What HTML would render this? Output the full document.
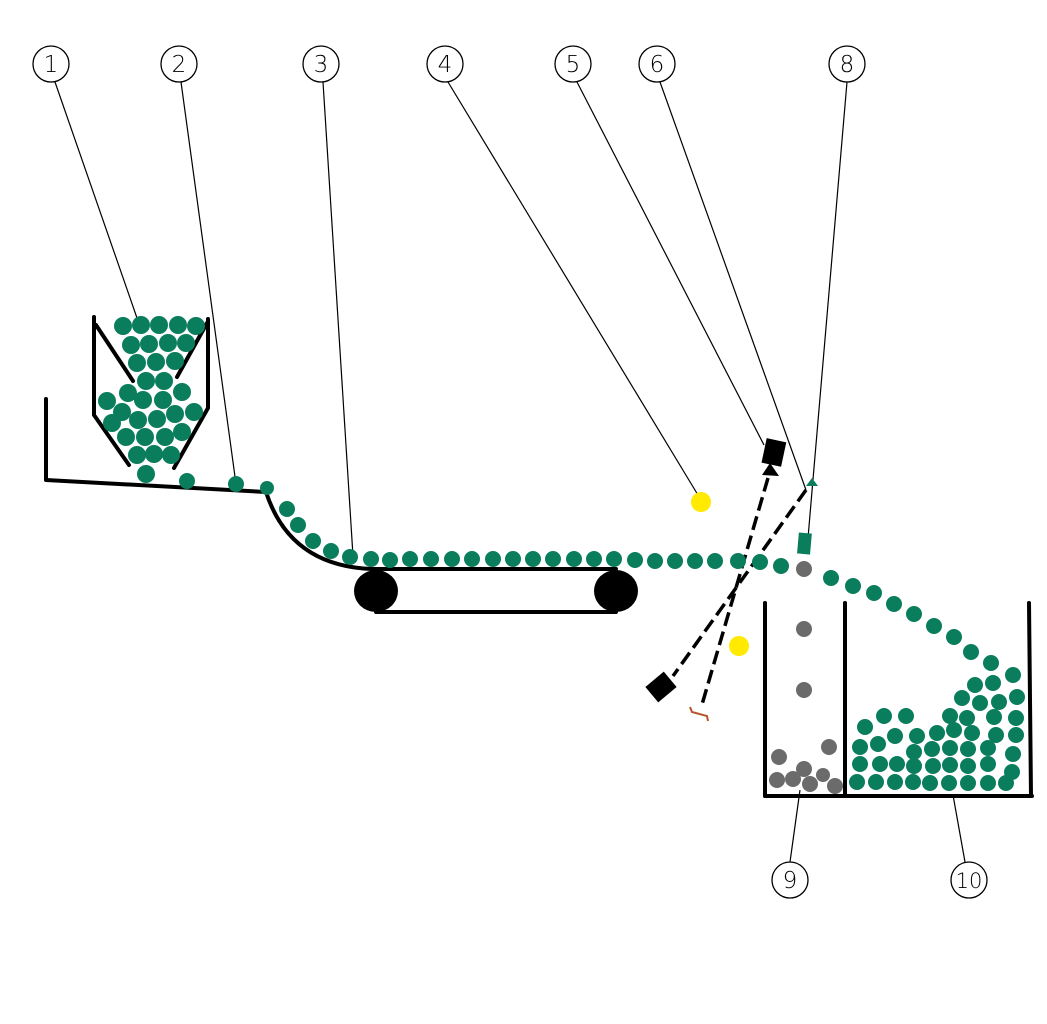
<!DOCTYPE html>
<html><head><meta charset="utf-8"><style>html,body{margin:0;padding:0;background:#fff}svg{display:block}</style></head>
<body>
<svg width="1047" height="1024" viewBox="0 0 1047 1024" xmlns="http://www.w3.org/2000/svg">
<g stroke="#000" stroke-width="1.2">
<line x1="55" y1="82" x2="137" y2="318"/>
<line x1="181" y1="82" x2="236" y2="484"/>
<line x1="323" y1="82" x2="353" y2="556"/>
<line x1="448" y1="82" x2="701" y2="500"/>
<line x1="577" y1="82" x2="764" y2="445"/>
<line x1="660" y1="82" x2="806" y2="490"/>
<line x1="847" y1="82" x2="808" y2="538"/>
<line x1="790" y1="862" x2="800" y2="790"/>
<line x1="965" y1="862" x2="953" y2="795"/>
</g>
<g fill="#fff" stroke="#000" stroke-width="1.3">
<circle cx="51" cy="64" r="18"/><circle cx="179" cy="64" r="18"/><circle cx="321" cy="64" r="18"/><circle cx="445" cy="64" r="18"/><circle cx="573" cy="64" r="18"/><circle cx="657" cy="64" r="18"/><circle cx="847" cy="64" r="18"/><circle cx="790" cy="880" r="18"/><circle cx="969" cy="880" r="18"/>
</g>
<g font-family="DejaVu Sans, Liberation Sans, sans-serif" font-size="23" font-weight="300" text-anchor="middle" fill="#000">
<text x="51" y="72">1</text><text x="179" y="72">2</text><text x="321" y="72">3</text><text x="445" y="72">4</text><text x="573" y="72">5</text><text x="657" y="72">6</text><text x="847" y="72">8</text><text x="790" y="888">9</text><text x="969" y="888" font-size="21">10</text>
</g>
<g fill="none" stroke="#000" stroke-width="4" stroke-linecap="round" stroke-linejoin="round">
<polyline points="46,399 46,480 266,492"/>
<path d="M266,492 Q290,566 372,569 L616,569"/>
<line x1="376" y1="612" x2="616" y2="612"/>
<polyline points="94,317 94,415 129,465"/>
<polyline points="208,319 208,408 174,468"/>
<line x1="96" y1="325" x2="133" y2="381"/>
<line x1="207" y1="323" x2="177" y2="377"/>
<line x1="765" y1="603" x2="765" y2="796"/>
<line x1="845" y1="603" x2="845" y2="795"/>
<line x1="1029" y1="603" x2="1031" y2="796"/>
<line x1="765" y1="796" x2="1032" y2="796"/>
</g>
<ellipse cx="376" cy="591" rx="22" ry="21" fill="#000"/>
<ellipse cx="616" cy="591" rx="22" ry="21" fill="#000"/>
<g stroke="#000" stroke-width="3.5" stroke-dasharray="14,6" fill="none">
<line x1="768" y1="478" x2="701" y2="708"/>
<line x1="806" y1="490" x2="673" y2="676"/>
</g>
<path d="M690,707 L692,712 L707,716 L708,721" fill="none" stroke="#b5562c" stroke-width="2"/>
<rect x="764" y="440" width="20" height="25" fill="#000" transform="rotate(12 774 452)"/>
<polygon points="770,463 762,475 779,476" fill="#000"/>
<rect x="651" y="675" width="20" height="24" fill="#000" transform="rotate(50 661 687)"/>
<polygon points="806,486 812,478 818,486" fill="#0a7d5c"/>
<rect x="798" y="533" width="13" height="21" fill="#0a7d5c" transform="rotate(5 804 543)"/>
<circle cx="701" cy="502" r="10" fill="#ffea00"/>
<circle cx="739" cy="646" r="10" fill="#ffea00"/>
<g fill="#6b6b6b">
<circle cx="804" cy="569" r="8"/><circle cx="804" cy="629" r="8"/><circle cx="804" cy="690" r="8"/>
<circle cx="779" cy="757" r="8"/><circle cx="829" cy="747" r="8"/><circle cx="777" cy="780" r="8"/><circle cx="793" cy="779" r="8"/><circle cx="804" cy="769" r="8"/><circle cx="810" cy="784" r="8"/><circle cx="823" cy="775" r="7"/><circle cx="835" cy="786" r="8"/>
</g>
<g fill="#0a7d5c">
<circle cx="123" cy="326" r="9"/><circle cx="141" cy="325" r="9"/><circle cx="159" cy="325" r="9"/><circle cx="178" cy="325" r="9"/><circle cx="196" cy="326" r="9"/>
<circle cx="131" cy="345" r="9"/><circle cx="149" cy="344" r="9"/><circle cx="168" cy="343" r="9"/><circle cx="186" cy="343" r="9"/>
<circle cx="137" cy="363" r="9"/><circle cx="156" cy="362" r="9"/><circle cx="175" cy="361" r="9"/>
<circle cx="146" cy="381" r="9"/><circle cx="164" cy="381" r="9"/>
<circle cx="128" cy="393" r="9"/><circle cx="143" cy="400" r="9"/><circle cx="163" cy="400" r="9"/><circle cx="182" cy="392" r="9"/><circle cx="107" cy="401" r="9"/>
<circle cx="122" cy="412" r="9"/><circle cx="112" cy="423" r="9"/><circle cx="138" cy="420" r="9"/><circle cx="157" cy="419" r="9"/><circle cx="175" cy="414" r="9"/><circle cx="194" cy="412" r="9"/>
<circle cx="126" cy="437" r="9"/><circle cx="145" cy="437" r="9"/><circle cx="165" cy="437" r="9"/><circle cx="182" cy="432" r="9"/>
<circle cx="137" cy="455" r="9"/><circle cx="154" cy="454" r="9"/><circle cx="171" cy="455" r="9"/>
<circle cx="146" cy="474" r="9"/><circle cx="187" cy="481" r="8"/><circle cx="236" cy="484" r="8"/><circle cx="267" cy="488" r="7"/>
<circle cx="287" cy="509" r="8"/><circle cx="298" cy="525" r="8"/><circle cx="313" cy="541" r="8"/><circle cx="331" cy="551" r="8"/><circle cx="350" cy="557" r="8"/>
<circle cx="371" cy="559" r="8"/><circle cx="390" cy="560" r="8"/><circle cx="410" cy="559" r="8"/><circle cx="431" cy="559" r="8"/><circle cx="452" cy="559" r="8"/><circle cx="472" cy="559" r="8"/><circle cx="493" cy="559" r="8"/><circle cx="513" cy="559" r="8"/><circle cx="533" cy="559" r="8"/><circle cx="553" cy="559" r="8"/><circle cx="574" cy="559" r="8"/><circle cx="594" cy="559" r="8"/><circle cx="614" cy="559" r="8"/><circle cx="635" cy="560" r="8"/><circle cx="655" cy="561" r="8"/><circle cx="675" cy="561" r="8"/><circle cx="695" cy="561" r="8"/><circle cx="715" cy="561" r="8"/><circle cx="738" cy="561" r="8"/><circle cx="760" cy="562" r="8"/><circle cx="781" cy="566" r="8"/>
<circle cx="831" cy="578" r="8"/><circle cx="853" cy="586" r="8"/><circle cx="874" cy="593" r="8"/><circle cx="894" cy="604" r="8"/><circle cx="914" cy="614" r="8"/><circle cx="934" cy="626" r="8"/><circle cx="954" cy="637" r="8"/><circle cx="971" cy="652" r="8"/><circle cx="991" cy="663" r="8"/>
<circle cx="857" cy="782" r="8"/><circle cx="876" cy="782" r="8"/><circle cx="895" cy="782" r="8"/><circle cx="913" cy="782" r="8"/><circle cx="930" cy="783" r="8"/><circle cx="949" cy="783" r="8"/><circle cx="968" cy="783" r="8"/><circle cx="988" cy="783" r="8"/><circle cx="1006" cy="783" r="8"/>
<circle cx="860" cy="764" r="8"/><circle cx="880" cy="764" r="8"/><circle cx="897" cy="764" r="8"/><circle cx="914" cy="766" r="8"/><circle cx="933" cy="766" r="8"/><circle cx="950" cy="765" r="8"/><circle cx="968" cy="766" r="8"/><circle cx="988" cy="764" r="8"/><circle cx="1012" cy="772" r="8"/>
<circle cx="860" cy="747" r="8"/><circle cx="878" cy="744" r="8"/><circle cx="895" cy="736" r="8"/><circle cx="914" cy="752" r="8"/><circle cx="932" cy="749" r="8"/><circle cx="950" cy="748" r="8"/><circle cx="968" cy="749" r="8"/><circle cx="988" cy="748" r="8"/><circle cx="1013" cy="754" r="8"/>
<circle cx="865" cy="727" r="8"/><circle cx="917" cy="736" r="8"/><circle cx="937" cy="733" r="8"/><circle cx="954" cy="730" r="8"/><circle cx="972" cy="733" r="8"/><circle cx="996" cy="735" r="8"/><circle cx="1016" cy="735" r="8"/>
<circle cx="884" cy="716" r="8"/><circle cx="906" cy="716" r="8"/><circle cx="950" cy="716" r="8"/><circle cx="967" cy="718" r="8"/><circle cx="994" cy="717" r="8"/><circle cx="1016" cy="718" r="8"/>
<circle cx="962" cy="698" r="8"/><circle cx="980" cy="703" r="8"/><circle cx="999" cy="702" r="8"/><circle cx="1017" cy="697" r="8"/>
<circle cx="975" cy="685" r="8"/><circle cx="993" cy="683" r="8"/><circle cx="1013" cy="675" r="8"/>
</g>
</svg>
</body></html>
